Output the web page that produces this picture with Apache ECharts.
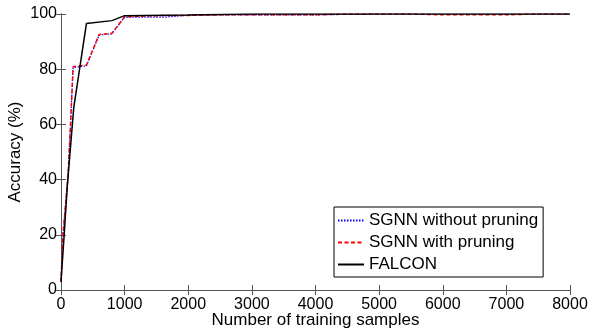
<!DOCTYPE html>
<html>
<head>
<meta charset="utf-8">
<script src="https://cdn.jsdelivr.net/npm/echarts@6/dist/echarts.min.js"></script>
<style>html,body{margin:0;padding:0;background:#fff}#c{width:589px;height:331px}</style>
</head>
<body>
<div id="c"></div>
<script>
// Data
var sgnnNoPruneX = [0, 30, 110, 150, 190, 400, 600, 800, 1000, 1500, 1650, 2000, 2500, 3000, 4000, 5000, 6000, 7000, 8000];
var sgnnNoPruneY = [3, 20, 41, 60, 80.6, 81.2, 92.4, 92.8, 98.9, 98.9, 98.9, 99.6, 99.7, 99.7, 99.7, 100, 100, 100, 100];
var sgnnPruneX = [0, 30, 110, 150, 190, 400, 600, 800, 1000, 1500, 2000, 2500, 3000, 3500, 4000, 4500, 5000, 5500, 6000, 6500, 7000, 7500, 8000];
var sgnnPruneY = [3, 20, 41, 60, 80.9, 81.5, 92.6, 93.0, 99.0, 99.4, 99.5, 99.7, 99.7, 99.7, 99.7, 100, 100, 100, 99.7, 99.7, 99.7, 100, 100];
var falconX = [0, 50, 100, 200, 400, 800, 1000, 2000, 3000, 4000, 5000, 6000, 7000, 8000];
var falconY = [3, 20, 38, 66, 96.6, 97.6, 99.4, 99.6, 100, 100, 100, 100, 100, 100];
var xTicks = [0, 1000, 2000, 3000, 4000, 5000, 6000, 7000, 8000];
var yTicks = [0, 20, 40, 60, 80, 100];

function pairs(xs, ys) { return xs.map(function (x, i) { return [x, ys[i]]; }); }

var font = 'Liberation Sans, Arial, sans-serif';
var chart = echarts.init(document.getElementById('c'), null, {renderer: 'canvas'});
var axisLine = {show: true, lineStyle: {color: '#555', width: 1}};
var tick = {show: true, inside: true, length: 5, lineStyle: {color: '#555'}};
chart.setOption({
  animation: false,
  backgroundColor: '#fff',
  grid: {left: 61, right: 19, top: 14, bottom: 41, containLabel: false, outerBoundsMode: 'none'},
  legend: {
    orient: 'vertical', left: 334, top: 207,
    backgroundColor: '#fff', borderColor: '#000', borderWidth: 1,
    padding: [5, 5, 4, 3], itemGap: 5, itemWidth: 26, itemHeight: 14,
    itemStyle: {opacity: 0},
    textStyle: {fontFamily: font, fontSize: 17, color: '#000'},
    data: ['SGNN without pruning', 'SGNN with pruning', 'FALCON']
  },
  xAxis: [{
    type: 'value', min: xTicks[0], max: xTicks[xTicks.length - 1], interval: 1000,
    name: 'Number of training samples', nameLocation: 'middle', nameGap: 22, nameMoveOverlap: false,
    nameTextStyle: {fontFamily: font, fontSize: 17, color: '#000'},
    axisLine: axisLine, axisTick: tick, splitLine: {show: false},
    axisLabel: {fontFamily: font, fontSize: 16, color: '#000', margin: 7,
      formatter: function (v) { return String(v); }}
  }, {
    type: 'value', position: 'top', min: 0, max: 8000, interval: 1000,
    axisLine: axisLine, axisTick: tick, axisLabel: {show: false}, splitLine: {show: false}
  }],
  yAxis: [{
    type: 'value', min: yTicks[0], max: yTicks[yTicks.length - 1], interval: 20,
    name: 'Accuracy (%)', nameLocation: 'middle', nameGap: 37, nameRotate: 90, nameMoveOverlap: false,
    nameTextStyle: {fontFamily: font, fontSize: 17, color: '#000'},
    axisLine: axisLine, axisTick: tick, splitLine: {show: false},
    axisLabel: {fontFamily: font, fontSize: 16, color: '#000', margin: 4}
  }, {
    type: 'value', position: 'right', min: 0, max: 100, interval: 20,
    axisLine: axisLine, axisTick: tick, axisLabel: {show: false}, splitLine: {show: false}
  }],
  series: [{
    name: 'SGNN without pruning', type: 'line', symbol: 'none', color: '#0000ff',
    lineStyle: {color: '#0000ff', width: 1.2, type: [1.5, 1.5]},
    data: pairs(sgnnNoPruneX, sgnnNoPruneY)
  }, {
    name: 'SGNN with pruning', type: 'line', symbol: 'none', color: '#ff0000',
    lineStyle: {color: '#ff0000', width: 1.5, type: [4, 2.5]},
    data: pairs(sgnnPruneX, sgnnPruneY)
  }, {
    name: 'FALCON', type: 'line', symbol: 'none', color: '#000000',
    lineStyle: {color: '#000000', width: 1.5},
    data: pairs(falconX, falconY)
  }]
});
</script>
</body>
</html>
